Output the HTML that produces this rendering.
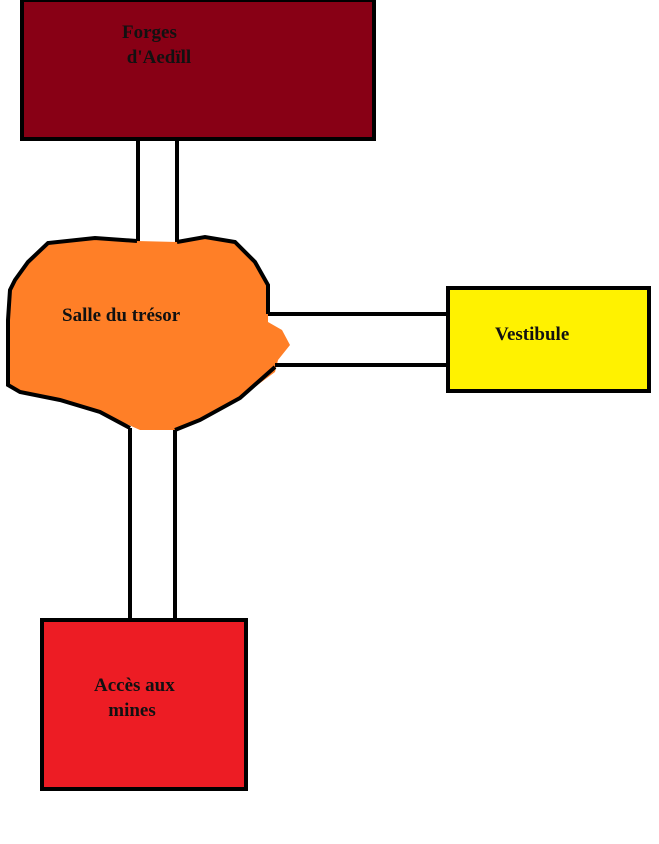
<!DOCTYPE html>
<html><head><style>
body{margin:0;width:659px;height:844px;background:#fff;position:relative;overflow:hidden;font-family:"Liberation Serif",serif;font-weight:bold;font-size:19px;color:#111}
.t{position:absolute;line-height:25px}
</style></head><body>
<svg width="659" height="844" style="position:absolute;left:0;top:0">
<rect x="22" y="0" width="352" height="139" fill="#880015" stroke="#000" stroke-width="4"/>
<line x1="138" y1="139" x2="138" y2="243" stroke="#000" stroke-width="4"/>
<line x1="177" y1="139" x2="177" y2="243" stroke="#000" stroke-width="4"/>
<path d="M137,241 L95,238 L48,243 L28,262 L15,280 L10,290 L8,320 L8,385 L20,392 L60,400 L100,412 L140,430 L175,430 L200,420 L240,398 L275,372 L278,360 L290,345 L282,330 L268,322 L268,285 L255,262 L235,242 L205,237 L177,242 Z" fill="#ff7f27"/>
<path d="M137,241 L95,238 L48,243 L28,262 L15,280 L10,290 L8,320 L8,385 L20,392 L60,400 L100,412 L130,428" fill="none" stroke="#000" stroke-width="4"/>
<path d="M177,242 L205,237 L235,242 L255,262 L268,285 L268,314" fill="none" stroke="#000" stroke-width="4"/>
<path d="M175,430 L200,420 L240,398 L275,367" fill="none" stroke="#000" stroke-width="4"/>
<line x1="268" y1="314" x2="448" y2="314" stroke="#000" stroke-width="4"/>
<line x1="275" y1="365" x2="448" y2="365" stroke="#000" stroke-width="4"/>
<rect x="448" y="288" width="201" height="103" fill="#fff200" stroke="#000" stroke-width="4"/>
<line x1="130" y1="428" x2="130" y2="620" stroke="#000" stroke-width="4"/>
<line x1="175" y1="430" x2="175" y2="620" stroke="#000" stroke-width="4"/>
<rect x="42" y="620" width="204" height="169" fill="#ed1c24" stroke="#000" stroke-width="4"/>
</svg>
<div class="t" style="left:122px;top:20px">Forges<br>&nbsp;d'Aedïll</div>
<div class="t" style="left:62px;top:303px">Salle du trésor</div>
<div class="t" style="left:495px;top:322px">Vestibule</div>
<div class="t" style="left:94px;top:673px">Accès aux<br>&nbsp;&nbsp;&nbsp;mines</div>
</body></html>
